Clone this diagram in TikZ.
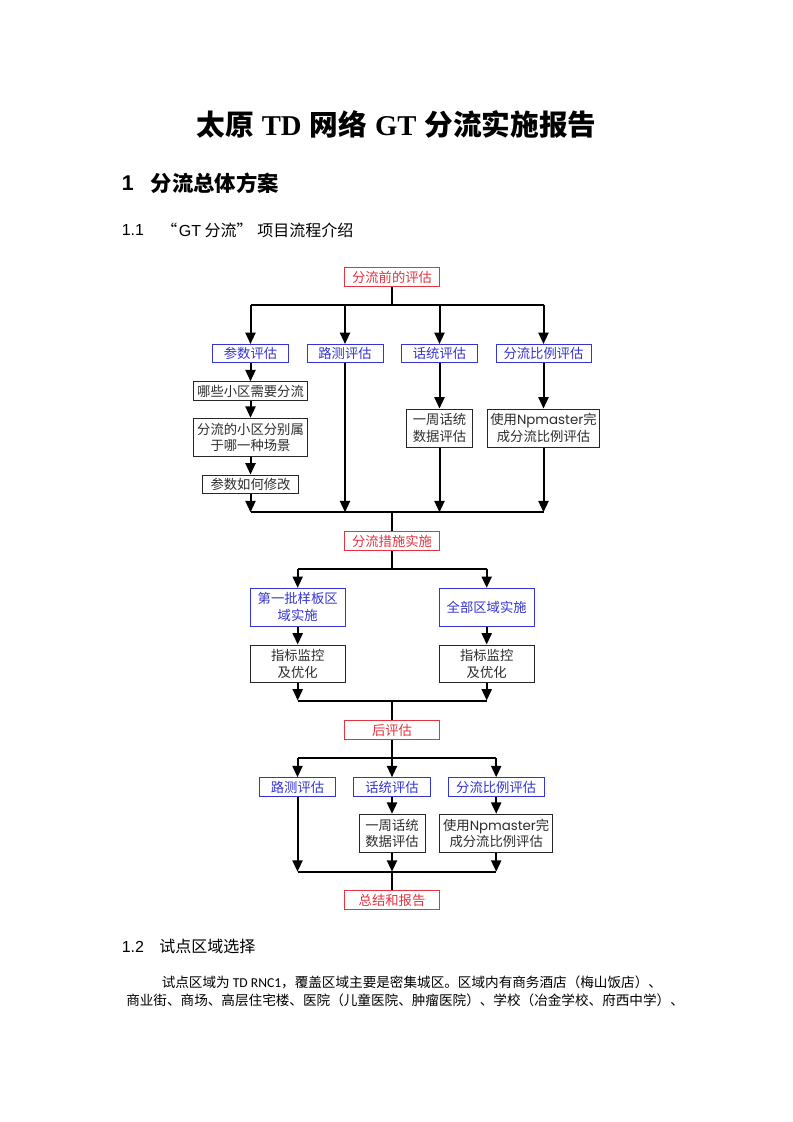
\documentclass[tikz,border=0pt]{standalone}
\usepackage{fontspec}
\usetikzlibrary{arrows.meta}
\setmainfont{Liberation Serif}
\setsansfont{Liberation Sans}
\newfontfamily\cjk{Noto Sans CJK SC}
\newfontfamily\geo{Poppins}
\newfontfamily\calfont{Carlito}

\definecolor{flred}{RGB}{228,52,64}
\definecolor{flblue}{RGB}{52,52,212}
\definecolor{flink}{RGB}{45,45,45}

\tikzset{
  box/.style={rectangle,draw,line width=0.75pt,inner sep=0pt,align=center,
    font=\cjk\fontsize{10pt}{12.5pt}\selectfont},
  redbox/.style={box,draw=flred,text=flred,minimum width=71pt,minimum height=14.2pt},
  bluebox/.style={box,draw=flblue,text=flblue,minimum height=13.5pt},
  graybox/.style={box,draw=black!85,text=flink},
  flow/.style={-{Triangle[length=8.5pt,width=7.5pt]},line width=1.5pt},
  link/.style={line width=1.5pt},
  txt/.style={inner sep=0pt,anchor=west}
}

\begin{document}
\begin{tikzpicture}[x=0.75pt,y=-0.75pt]
  \fill[white] (0,0) rectangle (793,1122);
  \useasboundingbox (0,0) rectangle (793,1122);
  % page text
  \node[inner sep=0pt] (title) at (396.5,124)
    {\fontsize{21.5pt}{26pt}\selectfont\cjk\bfseries 太原\hspace{0.28em}{\rmfamily\bfseries TD}\hspace{0.28em}网络\hspace{0.28em}{\rmfamily\bfseries GT}\hspace{0.28em}分流实施报告};
  \node[txt] (sec1num) at (121.5,183) {\fontsize{16pt}{19pt}\selectfont\sffamily\bfseries 1};
  \node[txt] (sec1) at (150.5,183) {\fontsize{16pt}{19pt}\selectfont\cjk\bfseries 分流总体方案};
  \node[txt] (sec11num) at (121.5,230) {\fontsize{12pt}{14pt}\selectfont\sffamily 1.1};
  \node[txt] (sec11) at (161,230) {\fontsize{12pt}{14pt}\selectfont\cjk “\hspace{0.1em}{\sffamily GT} 分流”\hspace{0.3em}项目流程介绍};
  \node[txt] (sec12num) at (121.5,946.5) {\fontsize{12pt}{14pt}\selectfont\sffamily 1.2};
  \node[txt] (sec12) at (159,946.5) {\fontsize{12pt}{14pt}\selectfont\cjk 试点区域选择};
  \node[txt] (body1) at (161.5,982)
    {\fontsize{10.2pt}{12pt}\selectfont\cjk 试点区域为 {\calfont TD RNC1}，覆盖区域主要是密集城区。区域内有商务酒店（梅山饭店）、};
  \node[txt] (body2) at (126,1000.5)
    {\fontsize{10.2pt}{12pt}\selectfont\cjk 商业街、商场、高层住宅楼、医院（儿童医院、肿瘤医院）、学校（冶金学校、府西中学）、};

  % stage 1: before
  \node[redbox] (pre) at (392,277) {分流前的评估};
  \node[bluebox,minimum width=57pt] (canshu) at (250.5,353.5) {参数评估};
  \node[bluebox,minimum width=57pt] (luce1) at (345,353.5) {路测评估};
  \node[bluebox,minimum width=57pt] (huatong1) at (439.5,353.5) {话统评估};
  \node[bluebox,minimum width=71.25pt] (bili1) at (543.5,353.5) {分流比例评估};
  \node[graybox,minimum width=85.5pt,minimum height=13.8pt] (q1) at (250.5,391) {哪些小区需要分流};
  \node[graybox,minimum width=85.5pt,minimum height=28.8pt] (q2) at (250.5,437.5) {分流的小区分别属\\于哪一种场景};
  \node[graybox,minimum width=71.7pt,minimum height=14.2pt] (q3) at (250.5,484.5) {参数如何修改};
  \node[graybox,minimum width=50pt,minimum height=28.7pt] (hz1) at (439.5,428.2) {一周话统\\数据评估};
  \node[graybox,minimum width=84.5pt,minimum height=28.7pt] (np1) at (543.5,428.2) {使用{\geo Npmaster}完\\成分流比例评估};
  \coordinate (t1) at (392,305);
  \coordinate (m1) at (392,512.3);
  \draw[link] (pre) -- (t1);
  \draw[link] (t1 -| canshu) -- (t1 -| bili1);
  \draw[flow] (t1 -| canshu) -- (canshu);
  \draw[flow] (t1 -| luce1) -- (luce1);
  \draw[flow] (t1 -| huatong1) -- (huatong1);
  \draw[flow] (t1 -| bili1) -- (bili1);
  \draw[flow] (canshu) -- (q1);
  \draw[flow] (q1) -- (q2);
  \draw[flow] (q2) -- (q3);
  \draw[flow] (huatong1) -- (hz1);
  \draw[flow] (bili1) -- (np1);
  \draw[flow] (q3) -- (m1 -| q3);
  \draw[flow] (luce1) -- (m1 -| luce1);
  \draw[flow] (hz1) -- (m1 -| hz1);
  \draw[flow] (np1) -- (m1 -| np1);
  \draw[link] (m1 -| q3) -- (m1 -| np1);

  % stage 2: rollout
  \node[redbox] (shishi) at (392,541.2) {分流措施实施};
  \node[bluebox,minimum width=71pt,minimum height=28.3pt] (pilot) at (297.7,607.2) {第一批样板区\\域实施};
  \node[bluebox,minimum width=71pt,minimum height=28.3pt] (allarea) at (486.7,607.2) {全部区域实施};
  \node[graybox,minimum width=71pt,minimum height=28pt] (jk1) at (297.7,663.7) {指标监控\\及优化};
  \node[graybox,minimum width=71pt,minimum height=28pt] (jk2) at (486.7,663.7) {指标监控\\及优化};
  \coordinate (t2) at (392,569.3);
  \coordinate (m2) at (392,700.5);
  \draw[link] (m1) -- (shishi);
  \draw[link] (shishi) -- (t2);
  \draw[link] (t2 -| pilot) -- (t2 -| allarea);
  \draw[flow] (t2 -| pilot) -- (pilot);
  \draw[flow] (t2 -| allarea) -- (allarea);
  \draw[flow] (pilot) -- (jk1);
  \draw[flow] (allarea) -- (jk2);
  \draw[flow] (jk1) -- (m2 -| jk1);
  \draw[flow] (jk2) -- (m2 -| jk2);
  \draw[link] (m2 -| jk1) -- (m2 -| jk2);

  % stage 3: after
  \node[redbox] (hpg) at (392,730) {后评估};
  \node[bluebox,minimum width=57.3pt,minimum height=14.2pt] (luce2) at (297.5,787.2) {路测评估};
  \node[bluebox,minimum width=57.3pt,minimum height=14.2pt] (huatong2) at (392,787.2) {话统评估};
  \node[bluebox,minimum width=71.8pt,minimum height=14.2pt] (bili2) at (496.2,787.2) {分流比例评估};
  \node[graybox,minimum width=49.5pt,minimum height=28.5pt] (hz2) at (392,833.3) {一周话统\\数据评估};
  \node[graybox,minimum width=85pt,minimum height=28.5pt] (np2) at (496.2,833.3) {使用{\geo Npmaster}完\\成分流比例评估};
  \node[redbox] (zj) at (392,900) {总结和报告};
  \coordinate (t3) at (392,758.3);
  \coordinate (m3) at (392,871.7);
  \draw[link] (m2) -- (hpg);
  \draw[link] (hpg) -- (t3);
  \draw[link] (t3 -| luce2) -- (t3 -| bili2);
  \draw[flow] (t3 -| luce2) -- (luce2);
  \draw[flow] (t3) -- (huatong2);
  \draw[flow] (t3 -| bili2) -- (bili2);
  \draw[flow] (huatong2) -- (hz2);
  \draw[flow] (bili2) -- (np2);
  \draw[flow] (luce2) -- (m3 -| luce2);
  \draw[flow] (hz2) -- (m3 -| hz2);
  \draw[flow] (np2) -- (m3 -| np2);
  \draw[link] (m3 -| luce2) -- (m3 -| np2);
  \draw[link] (m3) -- (zj);
\end{tikzpicture}
\end{document}
